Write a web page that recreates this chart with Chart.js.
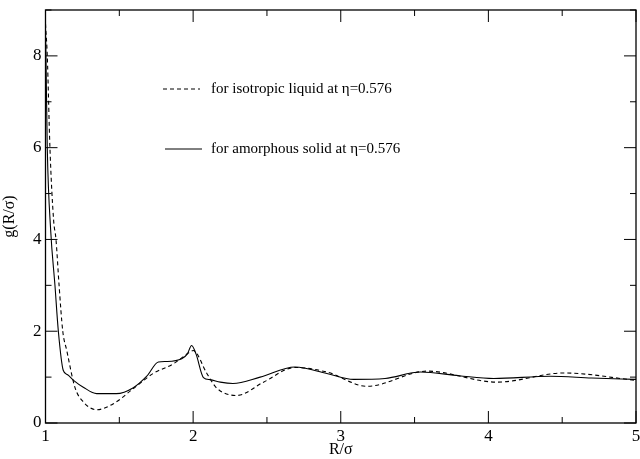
<!DOCTYPE html>
<html>
<head>
  <meta charset="UTF-8">
  <title>g(R/σ)</title>
  <script src="https://cdn.jsdelivr.net/npm/chart.js"></script>
  <style>
    body { margin: 0; background: white; }
    #wrap { width: 640px; height: 459px; }
  </style>
</head>
<body>
  <div id="wrap"><canvas id="grafico"></canvas></div>
  <script>
    // liquido isotropico (tracejado)
    const rLiquido = [1.0, 1.012, 1.03, 1.055, 1.071, 1.092, 1.117, 1.144, 1.2, 1.256, 1.347, 1.46, 1.595, 1.73, 1.866, 1.98, 2.0, 2.093, 2.16, 2.296, 2.477, 2.69, 2.906, 3.178, 3.584, 4.06, 4.51, 5.0];
    const gLiquido = [8.7, 8.0, 6.0, 4.42, 4.0, 3.0, 2.0, 1.58, 0.77, 0.46, 0.29, 0.42, 0.75, 1.08, 1.29, 1.55, 1.58, 1.08, 0.76, 0.60, 0.89, 1.21, 1.11, 0.80, 1.13, 0.89, 1.09, 0.93];
    // solido amorfo (continuo)
    const rSolido = [1.0, 1.003, 1.012, 1.035, 1.064, 1.087, 1.12, 1.15, 1.19, 1.256, 1.347, 1.48, 1.595, 1.686, 1.765, 1.82, 1.923, 1.96, 1.99, 2.02, 2.07, 2.115, 2.184, 2.27, 2.454, 2.69, 2.906, 3.087, 3.3, 3.54, 3.8, 4.036, 4.42, 4.7, 5.0];
    const gSolido = [8.5, 8.0, 6.0, 4.2, 3.0, 2.0, 1.15, 1.05, 0.93, 0.78, 0.64, 0.64, 0.77, 1.02, 1.33, 1.34, 1.40, 1.5, 1.69, 1.5, 0.99, 0.945, 0.89, 0.86, 1.0, 1.22, 1.08, 0.95, 0.97, 1.11, 1.03, 0.97, 1.02, 0.98, 0.95];

    const ticksX = [1, 2, 3, 4, 5];
    const ticksY = [0, 2, 4, 6, 8];
    const menoresX = [1.5, 2.5, 3.5, 4.5];
    const menoresY = [1, 3, 5, 7, 9];
    const legendas = ["for isotropic liquid at η=0.576", "for amorphous solid at η=0.576"];

    const fonte = "'Liberation Serif', 'DejaVu Serif', serif";
    const pontos = (xs, ys) => xs.map((x, i) => ({ x: x, y: ys[i] }));

    // moldura, marcas internas e legenda
    const moldura = {
      id: "moldura",
      afterDraw(chart) {
        const ctx = chart.ctx, a = chart.chartArea;
        const sx = chart.scales.x, sy = chart.scales.y;
        ctx.save();
        ctx.strokeStyle = "#000";
        ctx.lineWidth = 1.3;
        ctx.strokeRect(a.left, a.top, a.right - a.left, a.bottom - a.top);
        ctx.lineWidth = 1;
        ctx.beginPath();
        const marca = (v, len, eixoX) => {
          if (eixoX) {
            const p = sx.getPixelForValue(v);
            ctx.moveTo(p, a.bottom); ctx.lineTo(p, a.bottom - len);
            ctx.moveTo(p, a.top); ctx.lineTo(p, a.top + len);
          } else {
            const p = sy.getPixelForValue(v);
            ctx.moveTo(a.left, p); ctx.lineTo(a.left + len, p);
            ctx.moveTo(a.right, p); ctx.lineTo(a.right - len, p);
          }
        };
        ticksX.forEach(v => marca(v, 12, true));
        menoresX.forEach(v => marca(v, 6, true));
        ticksY.forEach(v => marca(v, 12, false));
        menoresY.forEach(v => marca(v, 6, false));
        ctx.stroke();

        // legenda
        ctx.font = "15px " + fonte;
        ctx.fillStyle = "#000";
        ctx.textBaseline = "middle";
        const linhas = [[163, 200, 89, [4, 3]], [165, 202, 149, []]];
        linhas.forEach((l, i) => {
          ctx.beginPath();
          ctx.setLineDash(l[3]);
          ctx.moveTo(l[0], l[2]); ctx.lineTo(l[1], l[2]);
          ctx.stroke();
          ctx.setLineDash([]);
          ctx.fillText(legendas[i], 211, l[2]);
        });
        ctx.restore();
      }
    };

    new Chart(document.getElementById("grafico"), {
      type: "line",
      data: {
        datasets: [
          { label: legendas[0], data: pontos(rLiquido, gLiquido), borderColor: "#000", borderWidth: 1.1, borderDash: [4, 3], pointRadius: 0, cubicInterpolationMode: "monotone", fill: false },
          { label: legendas[1], data: pontos(rSolido, gSolido), borderColor: "#000", borderWidth: 1.1, pointRadius: 0, cubicInterpolationMode: "monotone", fill: false }
        ]
      },
      options: {
        responsive: true,
        maintainAspectRatio: false,
        animation: false,
        layout: { padding: { top: 10, right: 4, left: 0, bottom: 0 } },
        plugins: { legend: { display: false }, tooltip: { enabled: false } },
        scales: {
          x: {
            type: "linear", min: 1, max: 5,
            afterBuildTicks: s => { s.ticks = ticksX.map(v => ({ value: v })); },
            afterFit: s => { s.height = 36; s.paddingLeft = 0; s.paddingRight = 0; },
            grid: { display: false, drawTicks: false },
            border: { display: false },
            ticks: { color: "#000", font: { family: fonte, size: 17 }, padding: 3, maxRotation: 0 },
            title: { display: true, text: "R/σ", color: "#000", font: { family: fonte, size: 16 }, padding: { top: -4, bottom: 0 } }
          },
          y: {
            min: 0, max: 9,
            afterBuildTicks: s => { s.ticks = ticksY.map(v => ({ value: v })); },
            afterFit: s => { s.width = 45.5; s.paddingTop = 0; s.paddingBottom = 0; },
            grid: { display: false, drawTicks: false },
            border: { display: false },
            ticks: { color: "#000", font: { family: fonte, size: 17 }, padding: 4 },
            title: { display: true, text: "g(R/σ)", color: "#000", font: { family: fonte, size: 16 }, padding: { top: 0, bottom: 0 } }
          }
        }
      },
      plugins: [moldura]
    });
  </script>
</body>
</html>
